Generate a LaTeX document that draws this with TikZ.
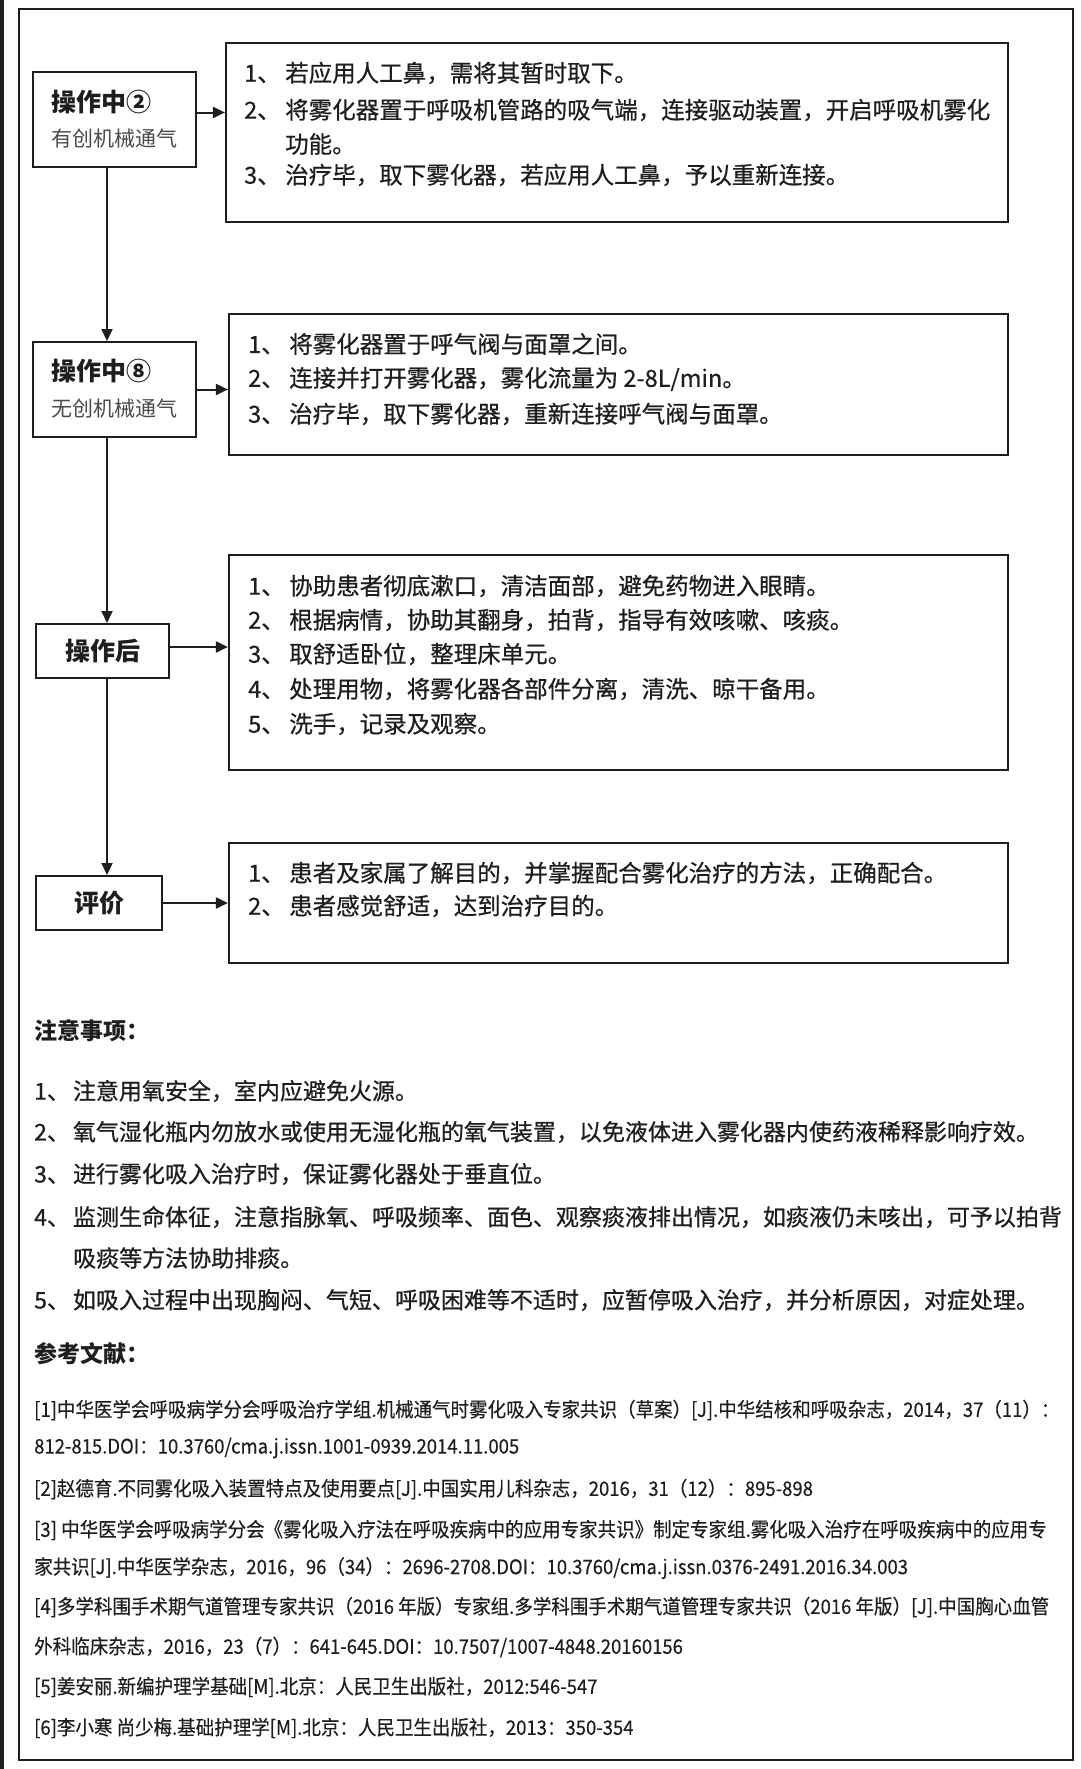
\documentclass[tikz,border=0pt]{standalone}
\usepackage{fontspec}
\setmainfont{Noto Sans CJK SC}
\newfontfamily\bodyfont[FakeBold=0.6]{Noto Sans CJK SC}
\newfontfamily\reffont[FakeBold=0.3]{Noto Sans CJK SC}
\usetikzlibrary{arrows.meta}
\definecolor{ink}{HTML}{1E1E1E}
\tikzset{
  lbox/.style={draw=ink, line width=2pt, fill=white, inner sep=0pt},
  tbox/.style={draw=ink, line width=2.2pt, fill=white, inner sep=0pt},
  conn/.style={draw=ink, line width=2pt, -{Triangle[length=12pt,width=11pt]}},
  txt/.style={anchor=west, inner sep=0pt, text=ink, font=\bodyfont\fontsize{23.5}{23.5}\selectfont},
  ntxt/.style={anchor=west, inner sep=0pt, text=ink, font=\bodyfont\fontsize{23}{23}\selectfont},
  head/.style={anchor=west, inner sep=0pt, text=ink, font=\fontsize{25}{25}\selectfont\bfseries},
  sub/.style={anchor=west, inner sep=0pt, text=ink!80, font=\fontsize{21}{21}\selectfont},
  reft/.style={anchor=west, inner sep=0pt, text=ink, font=\reffont\fontsize{20}{20}\selectfont},
}
\newcommand{\rl}[1]{\scalebox{0.925}[1]{#1}}
\newcommand{\gp}{\hspace{4.5pt}}
\newcommand{\ngp}{\hspace{3pt}}
\begin{document}
\begin{tikzpicture}[x=1pt,y=-1pt]
\useasboundingbox (0,0) rectangle (1080,1769);
\fill[white] (0,0) rectangle (1080,1769);
\fill[ink] (0,0) rectangle (4,1769);
\draw[ink, line width=2pt] (19,9) rectangle (1073,1760);

% left boxes
\node[lbox, minimum width=163pt, minimum height=95pt] (bA) at (114,119.5) {};
\node[lbox, minimum width=163pt, minimum height=95pt] (bB) at (114,389.5) {};
\node[lbox, minimum width=133pt, minimum height=54pt] (bC) at (102.5,651) {};
\node[lbox, minimum width=126pt, minimum height=54pt] (bD) at (99,903) {};

% text boxes
\node[tbox, minimum width=782pt, minimum height=179pt] (tA) at (617,132.5) {};
\node[tbox, minimum width=779pt, minimum height=141pt] (tB) at (618.5,384.5) {};
\node[tbox, minimum width=779pt, minimum height=215pt] (tC) at (618.5,662.5) {};
\node[tbox, minimum width=779pt, minimum height=120pt] (tD) at (618.5,903) {};

% labels
\node[head] (lA1) at (51,102) {操作中②};
\node[sub]  (lA2) at (51,138) {有创机械通气};
\node[head] (lB1) at (51,371) {操作中⑧};
\node[sub]  (lB2) at (51,408) {无创机械通气};
\node[head, anchor=center] (lC) at (bC.center) {操作后};
\node[head, anchor=center] (lD) at (bD.center) {评价};

% connectors
\draw[conn] ([yshift=7pt]bA.east) -- ([yshift=7pt]bA.east -| tA.west);
\draw[conn] (bB.east) -- (bB.east -| tB.west);
\draw[conn] ([yshift=4pt]bC.east) -- ([yshift=4pt]bC.east -| tC.west);
\draw[conn] (bD.east) -- (bD.east -| tD.west);
\draw[conn] ([xshift=-7pt]bA.south) -- ([xshift=-7pt]bA.south |- bB.north);
\draw[conn] ([xshift=-7pt]bB.south) -- ([xshift=-7pt]bB.south |- bC.north);
\draw[conn] ([xshift=4.5pt]bC.south) -- ([xshift=4.5pt]bC.south |- bD.north);

% box A text
\node[txt] (a1) at (244,73) {1、\gp 若应用人工鼻，需将其暂时取下。};
\node[txt] (a2) at (244,110) {2、\gp 将雾化器置于呼吸机管路的吸气端，连接驱动装置，开启呼吸机雾化};
\node[txt] (a2b) at (285,144) {功能。};
\node[txt] (a3) at (244,175) {3、\gp 治疗毕，取下雾化器，若应用人工鼻，予以重新连接。};

% box B text
\node[txt] (b1) at (248,344) {1、\gp 将雾化器置于呼气阀与面罩之间。};
\node[txt] (b2) at (248,379) {2、\gp 连接并打开雾化器，雾化流量为 2-8L/min。};
\node[txt] (b3) at (248,414) {3、\gp 治疗毕，取下雾化器，重新连接呼气阀与面罩。};

% box C text
\node[txt] (c1) at (248,586) {1、\gp 协助患者彻底漱口，清洁面部，避免药物进入眼睛。};
\node[txt] (c2) at (248,620) {2、\gp 根据病情，协助其翻身，拍背，指导有效咳嗽、咳痰。};
\node[txt] (c3) at (248,654) {3、\gp 取舒适卧位，整理床单元。};
\node[txt] (c4) at (248,689) {4、\gp 处理用物，将雾化器各部件分离，清洗、晾干备用。};
\node[txt] (c5) at (248,724) {5、\gp 洗手，记录及观察。};

% box D text
\node[txt] (d1) at (248,873) {1、\gp 患者及家属了解目的，并掌握配合雾化治疗的方法，正确配合。};
\node[txt] (d2) at (248,906) {2、\gp 患者感觉舒适，达到治疗目的。};

% notes
\node[txt, font=\fontsize{23}{23}\selectfont\bfseries] (nh) at (34,1031) {注意事项：};
\node[ntxt] (n1) at (34,1091) {1、\ngp 注意用氧安全，室内应避免火源。};
\node[ntxt] (n2) at (34,1132) {2、\ngp 氧气湿化瓶内勿放水或使用无湿化瓶的氧气装置，以免液体进入雾化器内使药液稀释影响疗效。};
\node[ntxt] (n3) at (34,1174) {3、\ngp 进行雾化吸入治疗时，保证雾化器处于垂直位。};
\node[ntxt] (n4) at (34,1217) {4、\ngp 监测生命体征，注意指脉氧、呼吸频率、面色、观察痰液排出情况，如痰液仍未咳出，可予以拍背};
\node[ntxt] (n4b) at (73,1258) {吸痰等方法协助排痰。};
\node[ntxt] (n5) at (34,1300) {5、\ngp 如吸入过程中出现胸闷、气短、呼吸困难等不适时，应暂停吸入治疗，并分析原因，对症处理。};

% references
\node[txt, font=\fontsize{23}{23}\selectfont\bfseries] (rh) at (34,1354) {参考文献：};
\node[reft] (r1) at (34,1410) {\rl{[1]中华医学会呼吸病学分会呼吸治疗学组.机械通气时雾化吸入专家共识（草案）[J].中华结核和呼吸杂志，2014，37（11）：}};
\node[reft] (r1b) at (34,1448) {\rl{812-815.DOI：10.3760/cma.j.issn.1001-0939.2014.11.005}};
\node[reft] (r2) at (34,1489) {\rl{[2]赵德育.不同雾化吸入装置特点及使用要点[J].中国实用儿科杂志，2016，31（12）：895-898}};
\node[reft] (r3) at (34,1530) {\rl{[3] 中华医学会呼吸病学分会《雾化吸入疗法在呼吸疾病中的应用专家共识》制定专家组.雾化吸入治疗在呼吸疾病中的应用专}};
\node[reft] (r3b) at (34,1568) {\rl{家共识[J].中华医学杂志，2016，96（34）：2696-2708.DOI：10.3760/cma.j.issn.0376-2491.2016.34.003}};
\node[reft] (r4) at (34,1607) {\rl{[4]多学科围手术期气道管理专家共识（2016 年版）专家组.多学科围手术期气道管理专家共识（2016 年版）[J].中国胸心血管}};
\node[reft] (r4b) at (34,1647) {\rl{外科临床杂志，2016，23（7）：641-645.DOI：10.7507/1007-4848.20160156}};
\node[reft] (r5) at (34,1687) {\rl{[5]姜安丽.新编护理学基础[M].北京：人民卫生出版社，2012:546-547}};
\node[reft] (r6) at (34,1728) {\rl{[6]李小寒 尚少梅.基础护理学[M].北京：人民卫生出版社，2013：350-354}};
\end{tikzpicture}
\end{document}
